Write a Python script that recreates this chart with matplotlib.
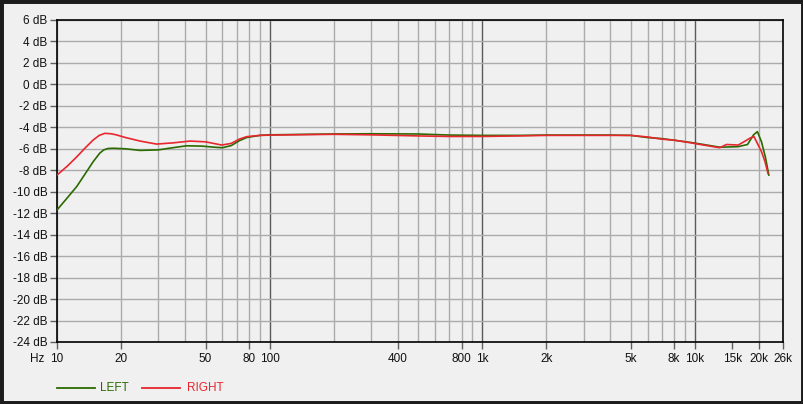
import numpy as np
import matplotlib.pyplot as plt
from matplotlib.lines import Line2D
from matplotlib.patches import Rectangle

plt.rcParams['font.family'] = ['Liberation Sans', 'DejaVu Sans']

# frequency response (Hz, dB)
freq_left = [10, 11.2, 12.4, 13.6, 14.8, 15.9, 16.6, 17.4, 18.5, 21, 24.6, 30, 35, 40.7, 48, 55, 60,
             66, 72, 78, 90, 100, 150, 200, 300, 500, 700, 1000, 1500, 2000, 3000, 4000, 5000,
             6000, 7000, 8000, 9500, 11000, 13100, 16000, 17700, 18900, 19700, 20600, 21500, 22300]
db_left = [-11.7, -10.55, -9.5, -8.3, -7.2, -6.4, -6.1, -5.97, -5.95, -6.0, -6.15, -6.1, -5.9,
           -5.72, -5.75, -5.85, -5.9, -5.7, -5.25, -4.95, -4.75, -4.7, -4.65, -4.62, -4.6, -4.62,
           -4.72, -4.75, -4.75, -4.72, -4.72, -4.72, -4.75, -4.95, -5.05, -5.2, -5.4, -5.6, -5.85,
           -5.8, -5.6, -4.7, -4.4, -5.35, -6.8, -8.45]

freq_right = [10, 11.2, 12.4, 13.6, 14.8, 15.8, 16.8, 18, 19, 21, 24.6, 29.4, 35, 42.3, 50, 59.5,
              66, 72, 78, 90, 103, 150, 200, 300, 500, 700, 1000, 1500, 2000, 3000, 4000, 5000,
              6000, 7000, 8000, 9500, 11000, 13100, 14100, 16000, 17200, 18200, 19000, 20600,
              21400, 22100]
db_right = [-8.45, -7.6, -6.74, -5.9, -5.18, -4.75, -4.56, -4.6, -4.7, -4.95, -5.28, -5.56, -5.45,
            -5.28, -5.35, -5.65, -5.5, -5.1, -4.87, -4.75, -4.72, -4.68, -4.65, -4.7, -4.8, -4.85,
            -4.85, -4.8, -4.75, -4.75, -4.75, -4.75, -4.9, -5.1, -5.2, -5.43, -5.65, -5.9, -5.6,
            -5.65, -5.3, -5.0, -4.87, -6.27, -7.2, -8.3]

tick_freqs = [10, 20, 50, 80, 100, 400, 800, 1000, 2000, 5000, 8000, 10000, 15000, 20000, 26000]
tick_labels = ['10', '20', '50', '80', '100', '400', '800', '1k', '2k', '5k', '8k', '10k',
               '15k', '20k', '26k']
db_ticks = list(range(-24, 7, 2))

GREEN = '#2a6a00'
RED = '#e8262e'
BG = '#f0f0f0'

fig = plt.figure(figsize=(8.04, 4.04), dpi=100, facecolor=BG)
ax = fig.add_axes([57 / 804, 1 - 342 / 404, 726 / 804, 322 / 404], facecolor=BG)

# log grid
minor = []
for dec in [10, 100, 1000, 10000]:
  for m in range(1, 10):
    f = dec * m
    if f <= 26000:
      minor.append(f)
for f in minor:
  dark = f in (100, 1000, 10000)
  ax.axvline(f, color='#5a5a5a' if dark else '#ababab', lw=1.0, zorder=1)
for d in db_ticks:
  ax.axhline(d, color='#ababab', lw=1.0, zorder=1)

ax.plot(freq_left, db_left, color=GREEN, lw=1.2, zorder=3)
ax.plot(freq_right, db_right, color=RED, lw=1.2, zorder=4)

ax.set_xscale('log')
ax.set_xlim(10, 26000)
ax.set_ylim(-24, 6)
ax.set_xticks(tick_freqs)
ax.set_xticklabels(tick_labels)
ax.xaxis.set_minor_locator(plt.NullLocator())
ax.set_yticks(db_ticks)
ax.set_yticklabels([f'{d} dB' for d in db_ticks])
ax.tick_params(axis='both', direction='out', length=5, width=1, color='#606060',
               labelsize=8.5, labelcolor='#111111', pad=2)
ax.tick_params(axis='x', pad=3)
for s in ax.spines.values():
  s.set_color('black')
  s.set_linewidth(1.2)

# "Hz" sits on the same line as the x tick labels
fig.text(44 / 804, 1 - 353 / 404, 'Hz', fontsize=8.5, color='#111111', va='top', ha='right')

# legend
ly = 1 - 388 / 404
fig.add_artist(Line2D([57 / 804, 95 / 804], [ly, ly], color=GREEN, lw=1.3))
fig.text(100 / 804, ly, 'LEFT', color=GREEN, fontsize=8.5, va='center', ha='left')
fig.add_artist(Line2D([142 / 804, 180 / 804], [ly, ly], color=RED, lw=1.3))
fig.text(187 / 804, ly, 'RIGHT', color=RED, fontsize=8.5, va='center', ha='left')

# dark outer frame
fig.add_artist(Rectangle((0, 0), 1, 1, transform=fig.transFigure, fill=False,
                         edgecolor='#1c1c1c', lw=5))

fig.savefig('out.png', dpi=100, facecolor=BG)
